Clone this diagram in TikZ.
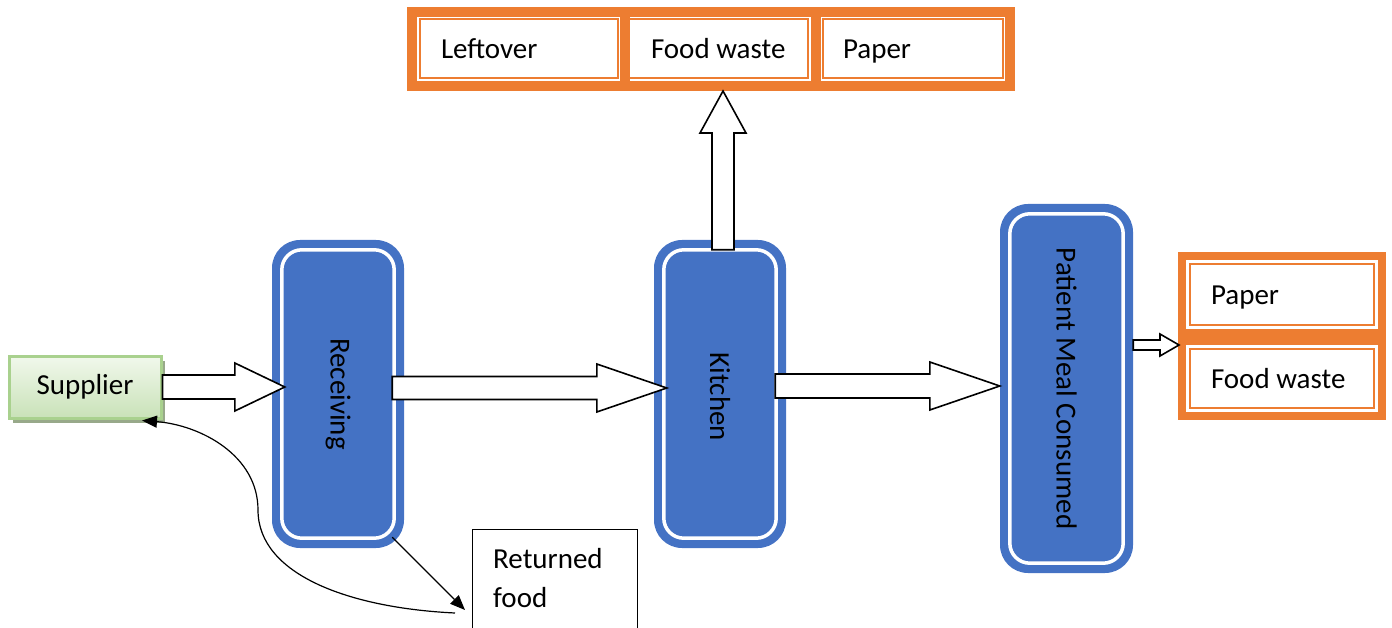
\documentclass[tikz,border=0pt]{standalone}
\usepackage{fontspec}
\setmainfont{Carlito}
\usetikzlibrary{arrows.meta,calc,shadows}
\definecolor{oblue}{HTML}{4472C4}
\definecolor{oorange}{HTML}{ED7D31}
\definecolor{ggreen}{HTML}{A9D18E}
\definecolor{gtop}{HTML}{F1F8EC}
\definecolor{gbot}{HTML}{C9E2B8}
\definecolor{gshadow}{HTML}{98A98A}
\newcommand\HArrow[5]{\draw[blockarrow] let \p1=(#1), \p2=(#2) in
  (\x1,\y1+#3pt) -- (\x2-#5pt,\y1+#3pt) -- (\x2-#5pt,\y1+#4pt) -- (\x2,\y1)
  -- (\x2-#5pt,\y1-#4pt) -- (\x2-#5pt,\y1-#3pt) -- (\x1,\y1-#3pt) -- cycle;}
\newcommand\VArrow[5]{\draw[blockarrow] let \p1=(#1), \p2=(#2) in
  (\x1-#3pt,\y1) -- (\x1-#3pt,\y2-#5pt) -- (\x1-#4pt,\y2-#5pt) -- (\x1,\y2)
  -- (\x1+#4pt,\y2-#5pt) -- (\x1+#3pt,\y2-#5pt) -- (\x1+#3pt,\y1) -- cycle;}
\begin{document}
\begin{tikzpicture}[x=1pt,y=-1pt,
  lbl/.style={font=\fontsize{29}{39}\selectfont, text=black},
  bluebox/.style={fill=oblue, draw=none, rounded corners=28pt, inner sep=0pt, minimum width=132pt},
  ring/.style={draw=white, line width=3.5pt, rounded corners=20pt},
  orangebox/.style={draw=oorange, line width=8pt, fill=white, lbl, align=flush left, inner ysep=0pt,
    text height=20pt, text depth=0pt},
  topbox/.style={orangebox, line width=10pt, minimum height=74pt},
  innerline/.style={draw=oorange, line width=2pt},
  blockarrow/.style={draw=black, fill=white, line width=1.6pt, line join=miter},
  flow/.style={-{Triangle[length=15pt,width=12pt]}, line width=1.2pt},
  supbox/.style={draw=ggreen, line width=3pt, top color=gtop, bottom color=gbot, lbl,
    minimum width=152pt, minimum height=62pt, inner sep=0pt,
    drop shadow={shadow xshift=4pt, shadow yshift=-5pt, fill=gshadow, opacity=1}},
  retbox/.style={draw=black, line width=1.4pt, fill=white, minimum width=165pt, minimum height=130pt, inner sep=0pt}
]
\useasboundingbox (0,0) rectangle (1392,628);
\clip (0,0) rectangle (1392,628);

% supplier
\node[supbox] (sup) at (85,387) {Supplier};

% blue process boxes
\node[bluebox, minimum height=308pt] (rec) at (338,394) {};
\node[bluebox, minimum height=308pt] (kit) at (720,394) {};
\node[bluebox, minimum width=133pt, minimum height=369pt] (pat) at (1066.5,388.5) {};
\foreach \b in {rec,kit,pat}{
  \draw[ring] ([shift={(10,10)}]\b.north west) rectangle ([shift={(-10,-10)}]\b.south east);
}
\node[lbl, rotate=-90] at (rec) {Receiving};
\node[lbl, rotate=-90] at ([yshift=-3pt]kit) {Kitchen};
\node[lbl, rotate=-90] at (pat) {Patient Meal Consumed};

% top waste boxes
\node[topbox, minimum width=190.5pt, inner xsep=26pt, text width=138.5pt] (fw) at (720.25,49) {Food waste};
\node[topbox, minimum width=213pt, inner xsep=29pt, text width=155pt] (lo) at (518.5,49) {Leftover};
\node[topbox, minimum width=194.5pt, inner xsep=27.5pt, text width=139.5pt] (pp) at (912.75,49) {Paper};
\foreach \b in {lo,pp}{
  \draw[innerline] ([shift={(12.5,12.5)}]\b.north west) rectangle ([shift={(-12.5,-12.5)}]\b.south east);
}
\draw[innerline] ([shift={(10,12.5)}]fw.north west) -- ([shift={(-12.5,12.5)}]fw.north east)
  -- ([shift={(-12.5,-12.5)}]fw.south east) -- ([shift={(10,-12.5)}]fw.south west);

% right waste boxes
\node[orangebox, minimum width=200pt, minimum height=77pt, inner xsep=29pt, text width=142pt] (rp) at (1282,294.5) {Paper};
\node[orangebox, minimum width=200pt, minimum height=75pt, inner xsep=29pt, text width=142pt] (rf) at (1282,378.5) {Food waste};
\foreach \b in {rp,rf}{
  \draw[innerline] ([shift={(12,12)}]\b.north west) rectangle ([shift={(-12,-12)}]\b.south east);
}

% returned food
\node[retbox, anchor=north west] (ret) at (472,529) {};
\node[lbl, align=flush left, anchor=north west, inner sep=0pt] at ([shift={(21,19)}]ret.north west) {Returned\\food};

% block arrows
\HArrow{sup.east}{[xshift=13pt]rec.west}{12}{24}{50}
\HArrow{[shift={(-12,-6)}]rec.east}{[xshift=13pt]kit.west}{11.5}{24}{70}
\HArrow{[shift={(-11,-8)}]kit.east}{pat.west}{12}{24}{70}
\VArrow{[shift={(3,10)}]kit.north}{fw.south}{11}{23}{42}
\HArrow{[yshift=43.5pt]pat.east}{[xshift=1pt]rp.west}{5}{11}{19}

% line arrows
\draw[flow] ([shift={(-12,-11)}]rec.south east) -- ([shift={(-7,81)}]ret.north west);
\draw[flow] ([shift={(-17,84)}]ret.north west) .. controls (350,608) and (258,575) .. (258,510)
  .. controls (258,455) and (200,425) .. ([shift={(57,1)}]sup.south);
\end{tikzpicture}
\end{document}
